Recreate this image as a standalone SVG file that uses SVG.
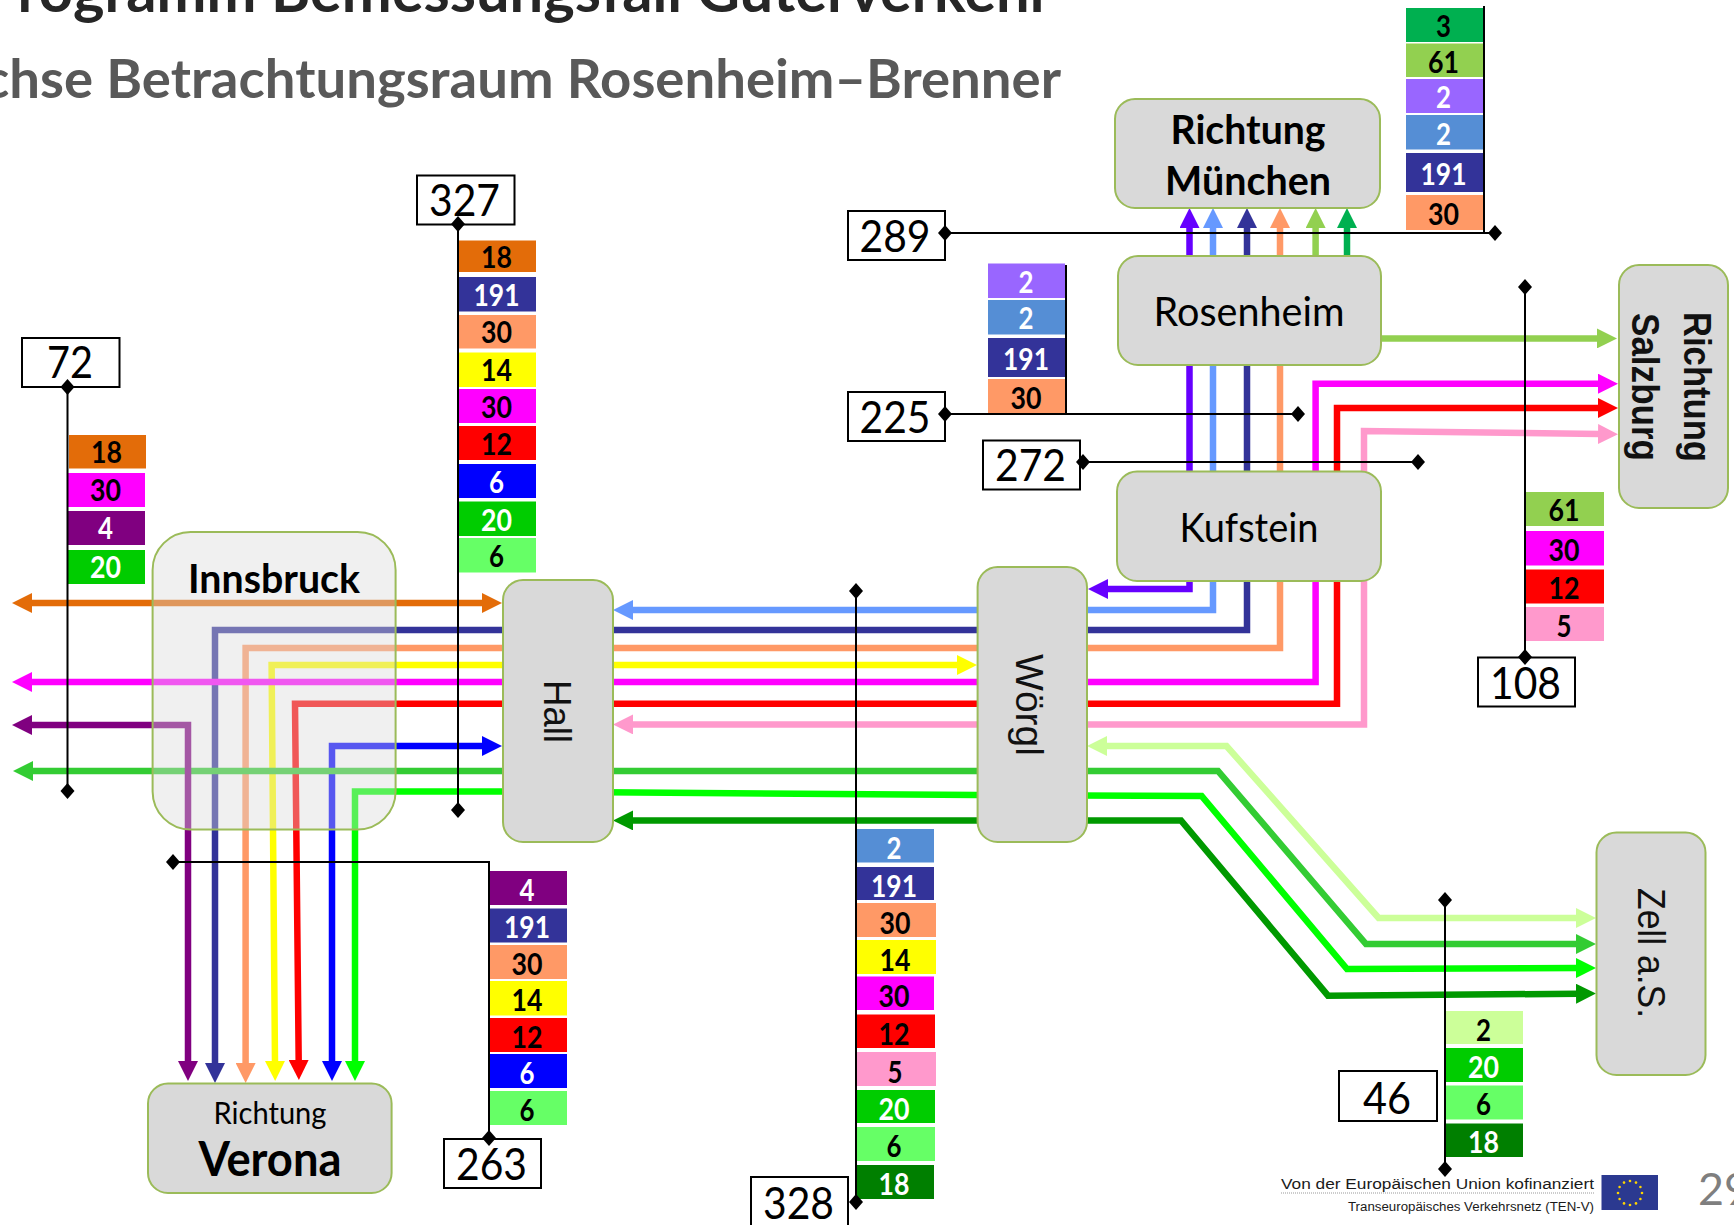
<svg xmlns="http://www.w3.org/2000/svg" width="1734" height="1225" viewBox="0 0 1734 1225">
<style>
text{font-family:Lato,"Liberation Sans",sans-serif}
.c{fill:none;stroke-width:6.5;stroke-linejoin:miter}
.k{fill:none;stroke:#000;stroke-width:2;marker-start:url(#dia);marker-end:url(#dia)}
.bare{fill:none;stroke:#000;stroke-width:2}
.n{fill:#D9D9D9;stroke:#9BBB59;stroke-width:2}
.nt{font-size:41px;text-anchor:middle;fill:#000}
.b{font-weight:700}
.ar{font-family:"Liberation Sans",Arial,sans-serif;font-size:38px;text-anchor:middle;fill:#111}
.box{fill:#fff;stroke:#000;stroke-width:2}
.bt{font-size:45px;text-anchor:middle;fill:#000;transform:translate(-1px,1px)}
.s{font-size:29.5px;font-weight:700;text-anchor:middle;fill:#000;transform:translate(-1px,1.5px)}
.w{fill:#fff}
.star{fill:#FFD500}
</style>
<defs>
<marker id="dia" viewBox="0 0 16 16" refX="8" refY="8" markerWidth="16" markerHeight="16" markerUnits="userSpaceOnUse" orient="0"><path d="M8 0L15 8 8 16 1 8z" fill="#000"/></marker>
<marker id="m1" viewBox="0 0 20 20" refX="2" refY="10" markerWidth="20" markerHeight="20" markerUnits="userSpaceOnUse" orient="auto-start-reverse"><path d="M0 0L20 10 0 20z" fill="#E36C09"/></marker>
<marker id="m2" viewBox="0 0 20 20" refX="2" refY="10" markerWidth="20" markerHeight="20" markerUnits="userSpaceOnUse" orient="auto-start-reverse"><path d="M0 0L20 10 0 20z" fill="#6699FF"/></marker>
<marker id="m3" viewBox="0 0 20 20" refX="2" refY="10" markerWidth="20" markerHeight="20" markerUnits="userSpaceOnUse" orient="auto-start-reverse"><path d="M0 0L20 10 0 20z" fill="#6600FF"/></marker>
<marker id="m4" viewBox="0 0 20 20" refX="2" refY="10" markerWidth="20" markerHeight="20" markerUnits="userSpaceOnUse" orient="auto-start-reverse"><path d="M0 0L20 10 0 20z" fill="#333399"/></marker>
<marker id="m5" viewBox="0 0 20 20" refX="2" refY="10" markerWidth="20" markerHeight="20" markerUnits="userSpaceOnUse" orient="auto-start-reverse"><path d="M0 0L20 10 0 20z" fill="#FF9966"/></marker>
<marker id="m6" viewBox="0 0 20 20" refX="2" refY="10" markerWidth="20" markerHeight="20" markerUnits="userSpaceOnUse" orient="auto-start-reverse"><path d="M0 0L20 10 0 20z" fill="#FFFF00"/></marker>
<marker id="m7" viewBox="0 0 20 20" refX="2" refY="10" markerWidth="20" markerHeight="20" markerUnits="userSpaceOnUse" orient="auto-start-reverse"><path d="M0 0L20 10 0 20z" fill="#FF00FF"/></marker>
<marker id="m8" viewBox="0 0 20 20" refX="2" refY="10" markerWidth="20" markerHeight="20" markerUnits="userSpaceOnUse" orient="auto-start-reverse"><path d="M0 0L20 10 0 20z" fill="#FF0000"/></marker>
<marker id="m9" viewBox="0 0 20 20" refX="2" refY="10" markerWidth="20" markerHeight="20" markerUnits="userSpaceOnUse" orient="auto-start-reverse"><path d="M0 0L20 10 0 20z" fill="#FF99CC"/></marker>
<marker id="m10" viewBox="0 0 20 20" refX="2" refY="10" markerWidth="20" markerHeight="20" markerUnits="userSpaceOnUse" orient="auto-start-reverse"><path d="M0 0L20 10 0 20z" fill="#0000FF"/></marker>
<marker id="m11" viewBox="0 0 20 20" refX="2" refY="10" markerWidth="20" markerHeight="20" markerUnits="userSpaceOnUse" orient="auto-start-reverse"><path d="M0 0L20 10 0 20z" fill="#33CC33"/></marker>
<marker id="m12" viewBox="0 0 20 20" refX="2" refY="10" markerWidth="20" markerHeight="20" markerUnits="userSpaceOnUse" orient="auto-start-reverse"><path d="M0 0L20 10 0 20z" fill="#00FF00"/></marker>
<marker id="m13" viewBox="0 0 20 20" refX="2" refY="10" markerWidth="20" markerHeight="20" markerUnits="userSpaceOnUse" orient="auto-start-reverse"><path d="M0 0L20 10 0 20z" fill="#009900"/></marker>
<marker id="m14" viewBox="0 0 20 20" refX="2" refY="10" markerWidth="20" markerHeight="20" markerUnits="userSpaceOnUse" orient="auto-start-reverse"><path d="M0 0L20 10 0 20z" fill="#CCFF99"/></marker>
<marker id="m15" viewBox="0 0 20 20" refX="2" refY="10" markerWidth="20" markerHeight="20" markerUnits="userSpaceOnUse" orient="auto-start-reverse"><path d="M0 0L20 10 0 20z" fill="#800080"/></marker>
<marker id="m16" viewBox="0 0 20 20" refX="2" refY="10" markerWidth="20" markerHeight="20" markerUnits="userSpaceOnUse" orient="auto-start-reverse"><path d="M0 0L20 10 0 20z" fill="#92D050"/></marker>
<marker id="m17" viewBox="0 0 20 20" refX="2" refY="10" markerWidth="20" markerHeight="20" markerUnits="userSpaceOnUse" orient="auto-start-reverse"><path d="M0 0L20 10 0 20z" fill="#00B050"/></marker>
</defs>
<rect width="1734" height="1225" fill="#fff"/>
<g id="title">
<text x="-19" y="12" font-size="59" font-weight="700" fill="#262626" textLength="1071" lengthAdjust="spacingAndGlyphs">Programm Bemessungsfall Güterverkehr</text>
<text x="-17" y="98" font-size="54" font-weight="700" fill="#595959" textLength="1078" lengthAdjust="spacingAndGlyphs">chse Betrachtungsraum Rosenheim–Brenner</text>
</g>
<g id="connectors">
<path class="c" stroke="#E36C09" marker-start="url(#m1)" marker-end="url(#m1)" d="M30 603H484"/>
<path class="c" stroke="#6699FF" marker-start="url(#m2)" marker-end="url(#m2)" d="M1213 226V610H631"/>
<path class="c" stroke="#6600FF" marker-start="url(#m3)" marker-end="url(#m3)" d="M1189.5 226V589H1106"/>
<path class="c" stroke="#333399" marker-start="url(#m4)" marker-end="url(#m4)" d="M1247 226V630H215V1065"/>
<path class="c" stroke="#FF9966" marker-start="url(#m5)" marker-end="url(#m5)" d="M1280 226V648H245.6V1065"/>
<path class="c" stroke="#FFFF00" marker-start="url(#m6)" marker-end="url(#m6)" d="M959 665H271.6L275 1063"/>
<path class="c" stroke="#FF00FF" marker-start="url(#m7)" marker-end="url(#m7)" d="M30 682H1315.6V383.7H1600"/>
<path class="c" stroke="#FF0000" marker-start="url(#m8)" marker-end="url(#m8)" d="M1600 408H1337V703.7H295L298.7 1062"/>
<path class="c" stroke="#FF99CC" marker-start="url(#m9)" marker-end="url(#m9)" d="M631 724.4H1364V431L1600 434"/>
<path class="c" stroke="#0000FF" marker-start="url(#m10)" marker-end="url(#m10)" d="M484 746H332V1063"/>
<path class="c" stroke="#33CC33" marker-start="url(#m11)" marker-end="url(#m11)" d="M31 771H1218L1366 944H1578"/>
<path class="c" stroke="#00FF00" marker-start="url(#m12)" marker-end="url(#m12)" d="M355 1063V791.5H503L977 795 1201.6 796 1347 969 1578 968"/>
<path class="c" stroke="#009900" marker-start="url(#m13)" marker-end="url(#m13)" d="M631 820.4H1181L1328 995.7 1578 993.7"/>
<path class="c" stroke="#CCFF99" marker-start="url(#m14)" marker-end="url(#m14)" d="M1105 746H1226.5L1378.6 918H1578"/>
<path class="c" stroke="#800080" marker-start="url(#m15)" marker-end="url(#m15)" d="M30 725H188V1063"/>
<path class="c" stroke="#92D050" marker-start="url(#m16)" d="M1315.6 226V256"/>
<path class="c" stroke="#92D050" marker-end="url(#m16)" d="M1381 338.4H1599"/>
<path class="c" stroke="#00B050" marker-start="url(#m17)" d="M1347 226V256"/>
</g>
<g id="node-innsbruck"><rect x="152.6" y="532" width="243" height="297.5" rx="38" fill="#D9D9D9" fill-opacity=".4" stroke="#9BBB59" stroke-width="2"/><text class="nt b" x="274" y="593" textLength="172" lengthAdjust="spacingAndGlyphs">Innsbruck</text></g>
<g id="node-hall"><rect class="n" x="503" y="580" width="110" height="262" rx="20"/><text class="ar" transform="translate(544,711.5) rotate(90)" textLength="63" lengthAdjust="spacingAndGlyphs">Hall</text></g>
<g id="node-woergl"><rect class="n" x="977.6" y="567" width="109.4" height="275" rx="20"/><text class="ar" transform="translate(1016,705) rotate(90)" textLength="102" lengthAdjust="spacingAndGlyphs">Wörgl</text></g>
<g id="node-muenchen"><rect class="n" x="1115" y="99" width="265" height="109" rx="20"/><text class="nt b" x="1248" y="144" textLength="155" lengthAdjust="spacingAndGlyphs">Richtung</text><text class="nt b" x="1248" y="195" textLength="166" lengthAdjust="spacingAndGlyphs">München</text></g>
<g id="node-rosenheim"><rect class="n" x="1118" y="256" width="263" height="109" rx="20"/><text class="nt" x="1249" y="326" textLength="191" lengthAdjust="spacingAndGlyphs">Rosenheim</text></g>
<g id="node-kufstein"><rect class="n" x="1117" y="471.5" width="264" height="109.5" rx="20"/><text class="nt" x="1249" y="542" textLength="139" lengthAdjust="spacingAndGlyphs">Kufstein</text></g>
<g id="node-salzburg"><rect class="n" x="1619" y="265" width="109" height="243" rx="20"/><text class="ar b" transform="translate(1684,387) rotate(90)" textLength="150" lengthAdjust="spacingAndGlyphs">Richtung</text><text class="ar b" transform="translate(1632,387) rotate(90)" textLength="148" lengthAdjust="spacingAndGlyphs">Salzburg</text></g>
<g id="node-zell"><rect class="n" x="1596.5" y="832.5" width="109" height="242.5" rx="20"/><text class="ar" transform="translate(1638,953) rotate(90)" textLength="130" lengthAdjust="spacingAndGlyphs">Zell a.S.</text></g>
<g id="node-verona"><rect class="n" x="148" y="1083.5" width="243.6" height="109.5" rx="20"/><text x="270" y="1124" font-size="31" text-anchor="middle" fill="#000" textLength="113" lengthAdjust="spacingAndGlyphs">Richtung</text><text class="nt b" x="270" y="1176" style="font-size:47px" textLength="143" lengthAdjust="spacingAndGlyphs">Verona</text></g>
<g id="count-72">
<rect class="box" x="22" y="338" width="97.5" height="49"/><text class="bt" x="71" y="377" textLength="46" lengthAdjust="spacingAndGlyphs">72</text>
<rect x="69" y="435" width="77" height="33.5" fill="#E36C09"/><text class="s" x="107.5" y="461" textLength="31" lengthAdjust="spacingAndGlyphs">18</text>
<rect x="68" y="473" width="77" height="34" fill="#FF00FF"/><text class="s" x="106.5" y="499" textLength="31" lengthAdjust="spacingAndGlyphs">30</text>
<rect x="68" y="511" width="77" height="34" fill="#800080"/><text class="s w" x="106.5" y="537" textLength="15" lengthAdjust="spacingAndGlyphs">4</text>
<rect x="68" y="550" width="77" height="34" fill="#00CC00"/><text class="s w" x="106.5" y="576" textLength="31" lengthAdjust="spacingAndGlyphs">20</text>
</g>
<g id="count-327">
<rect class="box" x="417" y="175.5" width="97.5" height="49"/><text class="bt" x="465.5" y="215" textLength="71" lengthAdjust="spacingAndGlyphs">327</text>
<rect x="459" y="240.5" width="77" height="31.5" fill="#E36C09"/><text class="s" x="497.5" y="266" textLength="31" lengthAdjust="spacingAndGlyphs">18</text>
<rect x="459" y="277" width="77" height="34.5" fill="#333399"/><text class="s w" x="497.5" y="304" textLength="46" lengthAdjust="spacingAndGlyphs">191</text>
<rect x="459" y="315" width="77" height="33.5" fill="#FF9966"/><text class="s" x="497.5" y="341" textLength="31" lengthAdjust="spacingAndGlyphs">30</text>
<rect x="459" y="352.5" width="77" height="34.5" fill="#FFFF00"/><text class="s" x="497.5" y="379" textLength="31" lengthAdjust="spacingAndGlyphs">14</text>
<rect x="459" y="389" width="77" height="34" fill="#FF00FF"/><text class="s" x="497.5" y="416" textLength="31" lengthAdjust="spacingAndGlyphs">30</text>
<rect x="459" y="426" width="77" height="34" fill="#FF0000"/><text class="s" x="497.5" y="453" textLength="31" lengthAdjust="spacingAndGlyphs">12</text>
<rect x="459" y="464" width="77" height="34" fill="#0000FF"/><text class="s w" x="497.5" y="491" textLength="15" lengthAdjust="spacingAndGlyphs">6</text>
<rect x="459" y="501.5" width="77" height="34.5" fill="#00CC00"/><text class="s w" x="497.5" y="529" textLength="31" lengthAdjust="spacingAndGlyphs">20</text>
<rect x="459" y="538" width="77" height="34.5" fill="#66FF66"/><text class="s" x="497.5" y="565" textLength="15" lengthAdjust="spacingAndGlyphs">6</text>
</g>
<g id="count-289">
<rect class="box" x="848" y="211" width="97" height="49"/><text class="bt" x="896" y="251" textLength="71" lengthAdjust="spacingAndGlyphs">289</text>
<rect x="1406" y="8" width="77" height="34" fill="#00B050"/><text class="s" x="1444.5" y="35" textLength="15" lengthAdjust="spacingAndGlyphs">3</text>
<rect x="1406" y="43.5" width="77" height="33.5" fill="#92D050"/><text class="s" x="1444.5" y="71" textLength="31" lengthAdjust="spacingAndGlyphs">61</text>
<rect x="1406" y="79" width="77" height="34" fill="#9966FF"/><text class="s w" x="1444.5" y="106" textLength="15" lengthAdjust="spacingAndGlyphs">2</text>
<rect x="1406" y="115" width="77" height="34.5" fill="#558ED5"/><text class="s w" x="1444.5" y="143" textLength="15" lengthAdjust="spacingAndGlyphs">2</text>
<rect x="1406" y="153" width="77" height="39" fill="#333399"/><text class="s w" x="1444.5" y="183" textLength="46" lengthAdjust="spacingAndGlyphs">191</text>
<rect x="1406" y="195" width="77" height="35" fill="#FF9966"/><text class="s" x="1444.5" y="223" textLength="31" lengthAdjust="spacingAndGlyphs">30</text>
</g>
<g id="count-225">
<rect class="box" x="848" y="392" width="97" height="49"/><text class="bt" x="896" y="432" textLength="71" lengthAdjust="spacingAndGlyphs">225</text>
<rect x="988" y="263.5" width="77" height="34.5" fill="#9966FF"/><text class="s w" x="1027" y="291" textLength="15" lengthAdjust="spacingAndGlyphs">2</text>
<rect x="988" y="300" width="77" height="34.5" fill="#558ED5"/><text class="s w" x="1027" y="327" textLength="15" lengthAdjust="spacingAndGlyphs">2</text>
<rect x="988" y="338" width="77" height="39" fill="#333399"/><text class="s w" x="1027" y="368" textLength="46" lengthAdjust="spacingAndGlyphs">191</text>
<rect x="988" y="379" width="77" height="34" fill="#FF9966"/><text class="s" x="1027" y="407" textLength="31" lengthAdjust="spacingAndGlyphs">30</text>
</g>
<g id="count-272"><rect class="box" x="983" y="440.5" width="97" height="49"/><text class="bt" x="1031.5" y="480" textLength="71" lengthAdjust="spacingAndGlyphs">272</text></g>
<g id="count-108">
<rect class="box" x="1478" y="657.5" width="97" height="49"/><text class="bt" x="1526.5" y="698" textLength="71" lengthAdjust="spacingAndGlyphs">108</text>
<rect x="1526" y="492" width="78" height="34" fill="#92D050"/><text class="s" x="1565" y="519" textLength="31" lengthAdjust="spacingAndGlyphs">61</text>
<rect x="1526" y="531" width="78" height="34.5" fill="#FF00FF"/><text class="s" x="1565" y="559" textLength="31" lengthAdjust="spacingAndGlyphs">30</text>
<rect x="1526" y="569.5" width="78" height="34" fill="#FF0000"/><text class="s" x="1565" y="597" textLength="31" lengthAdjust="spacingAndGlyphs">12</text>
<rect x="1526" y="607" width="78" height="34" fill="#FF99CC"/><text class="s" x="1565" y="635" textLength="15" lengthAdjust="spacingAndGlyphs">5</text>
</g>
<g id="count-263">
<rect class="box" x="444" y="1139" width="97" height="49"/><text class="bt" x="492.5" y="1179" textLength="71" lengthAdjust="spacingAndGlyphs">263</text>
<rect x="490" y="871" width="77" height="34" fill="#800080"/><text class="s w" x="528" y="899" textLength="15" lengthAdjust="spacingAndGlyphs">4</text>
<rect x="490" y="908.5" width="77" height="34" fill="#333399"/><text class="s w" x="528" y="936" textLength="46" lengthAdjust="spacingAndGlyphs">191</text>
<rect x="490" y="945" width="77" height="34" fill="#FF9966"/><text class="s" x="528" y="973" textLength="31" lengthAdjust="spacingAndGlyphs">30</text>
<rect x="490" y="981" width="77" height="34.5" fill="#FFFF00"/><text class="s" x="528" y="1009" textLength="31" lengthAdjust="spacingAndGlyphs">14</text>
<rect x="490" y="1018" width="77" height="34" fill="#FF0000"/><text class="s" x="528" y="1046" textLength="31" lengthAdjust="spacingAndGlyphs">12</text>
<rect x="490" y="1054" width="77" height="34" fill="#0000FF"/><text class="s w" x="528" y="1082" textLength="15" lengthAdjust="spacingAndGlyphs">6</text>
<rect x="490" y="1091" width="77" height="34" fill="#66FF66"/><text class="s" x="528" y="1119" textLength="15" lengthAdjust="spacingAndGlyphs">6</text>
</g>
<g id="count-328">
<rect class="box" x="751" y="1177" width="97" height="49"/><text class="bt" x="799.5" y="1218" textLength="71" lengthAdjust="spacingAndGlyphs">328</text>
<rect x="857" y="829" width="77" height="33.5" fill="#558ED5"/><text class="s w" x="895" y="857" textLength="15" lengthAdjust="spacingAndGlyphs">2</text>
<rect x="857" y="867" width="77" height="33" fill="#333399"/><text class="s w" x="895" y="895" textLength="46" lengthAdjust="spacingAndGlyphs">191</text>
<rect x="857" y="903" width="79" height="34" fill="#FF9966"/><text class="s" x="896" y="932" textLength="31" lengthAdjust="spacingAndGlyphs">30</text>
<rect x="857" y="940" width="79" height="34" fill="#FFFF00"/><text class="s" x="896" y="969" textLength="31" lengthAdjust="spacingAndGlyphs">14</text>
<rect x="857" y="976.5" width="77" height="33.5" fill="#FF00FF"/><text class="s" x="895" y="1005" textLength="31" lengthAdjust="spacingAndGlyphs">30</text>
<rect x="857" y="1014.5" width="78" height="33.5" fill="#FF0000"/><text class="s" x="895" y="1043" textLength="31" lengthAdjust="spacingAndGlyphs">12</text>
<rect x="857" y="1052" width="79" height="34" fill="#FF99CC"/><text class="s" x="896" y="1081" textLength="15" lengthAdjust="spacingAndGlyphs">5</text>
<rect x="857" y="1090" width="78" height="33" fill="#00CC00"/><text class="s w" x="895" y="1118" textLength="31" lengthAdjust="spacingAndGlyphs">20</text>
<rect x="857" y="1127" width="78" height="34" fill="#66FF66"/><text class="s" x="895" y="1155" textLength="15" lengthAdjust="spacingAndGlyphs">6</text>
<rect x="857" y="1165" width="77" height="34" fill="#007F00"/><text class="s w" x="895" y="1193" textLength="31" lengthAdjust="spacingAndGlyphs">18</text>
</g>
<g id="count-46">
<rect class="box" x="1339" y="1071" width="98" height="50"/><text class="bt" x="1388" y="1113" textLength="48" lengthAdjust="spacingAndGlyphs">46</text>
<rect x="1446" y="1011" width="77" height="33" fill="#CCFF99"/><text class="s" x="1484.5" y="1039" textLength="15" lengthAdjust="spacingAndGlyphs">2</text>
<rect x="1446" y="1048" width="77" height="34" fill="#00CC00"/><text class="s w" x="1484.5" y="1076" textLength="31" lengthAdjust="spacingAndGlyphs">20</text>
<rect x="1446" y="1085.5" width="77" height="34" fill="#66FF66"/><text class="s" x="1484.5" y="1113" textLength="15" lengthAdjust="spacingAndGlyphs">6</text>
<rect x="1446" y="1123.5" width="77" height="33.5" fill="#007F00"/><text class="s w" x="1484.5" y="1151" textLength="31" lengthAdjust="spacingAndGlyphs">18</text>
</g>
<g id="leaders">
<path class="k" d="M67.5 387V791"/>
<path class="k" d="M458 224V810"/>
<path class="k" d="M945 233H1495"/>
<path class="bare" d="M1484 6V233"/>
<path class="k" d="M945 414H1298"/>
<path class="bare" d="M1066 265V414"/>
<path class="k" d="M1083 462H1418"/>
<path class="k" d="M1525 287V657"/>
<path class="k" d="M856 591V1202"/>
<path class="k" d="M1445 900V1169"/>
<path class="k" d="M173 862H489V1138"/>
</g>
<g id="footer">
<text x="1281" y="1189" font-size="15.5" fill="#1a1a1a" style="font-family:'Liberation Sans',sans-serif" textLength="313" lengthAdjust="spacingAndGlyphs">Von der Europäischen Union kofinanziert</text>
<path d="M1281 1193H1594" stroke="#999" stroke-width="1" stroke-dasharray="1 1"/>
<text x="1348" y="1211" font-size="12" fill="#1a1a1a" style="font-family:'Liberation Sans',sans-serif" textLength="246" lengthAdjust="spacingAndGlyphs">Transeuropäisches Verkehrsnetz (TEN-V)</text>
<rect x="1601.5" y="1175" width="56.5" height="35" fill="#2B3990"/>
<g class="star"><circle cx="1630" cy="1181" r="1.3"/><circle cx="1636" cy="1182.6" r="1.3"/><circle cx="1640.4" cy="1187" r="1.3"/><circle cx="1642" cy="1193" r="1.3"/><circle cx="1640.4" cy="1199" r="1.3"/><circle cx="1636" cy="1203.4" r="1.3"/><circle cx="1630" cy="1205" r="1.3"/><circle cx="1624" cy="1203.4" r="1.3"/><circle cx="1619.6" cy="1199" r="1.3"/><circle cx="1618" cy="1193" r="1.3"/><circle cx="1619.6" cy="1187" r="1.3"/><circle cx="1624" cy="1182.6" r="1.3"/></g>
<text x="1698" y="1205" font-size="44" fill="#7F7F7F" textLength="52" lengthAdjust="spacingAndGlyphs">29</text>
</g>
</svg>
